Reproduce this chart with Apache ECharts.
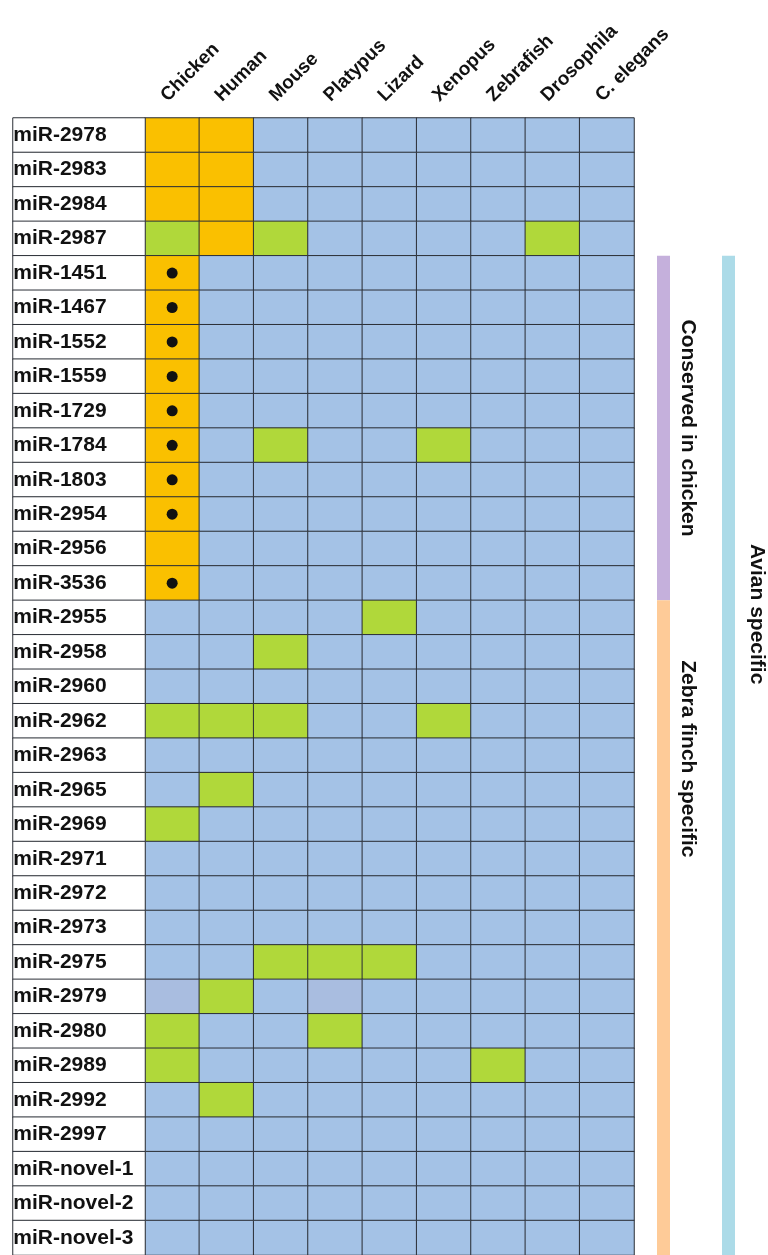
<!DOCTYPE html>
<html>
<head>
<meta charset="utf-8">
<script src="https://cdn.jsdelivr.net/npm/echarts@6/dist/echarts.min.js"></script>
<style>
  html, body { margin: 0; padding: 0; background: #fff; }
</style>
</head>
<body>
<div id="main" style="width: 768px;height:1255px;"></div>
<script type="text/javascript">
// species across the top
var species = ['Chicken', 'Human', 'Mouse', 'Platypus', 'Lizard', 'Xenopus', 'Zebrafish', 'Drosophila', 'C. elegans'];

// miRNAs down the side
var mirnas = ['miR-2978', 'miR-2983', 'miR-2984', 'miR-2987', 'miR-1451', 'miR-1467', 'miR-1552',
  'miR-1559', 'miR-1729', 'miR-1784', 'miR-1803', 'miR-2954', 'miR-2956', 'miR-3536',
  'miR-2955', 'miR-2958', 'miR-2960', 'miR-2962', 'miR-2963', 'miR-2965', 'miR-2969',
  'miR-2971', 'miR-2972', 'miR-2973', 'miR-2975', 'miR-2979', 'miR-2980', 'miR-2989',
  'miR-2992', 'miR-2997', 'miR-novel-1', 'miR-novel-2', 'miR-novel-3'];

// 0 = absent (blue), 1 = green, 2 = orange, 3 = pale blue
var cellCodes = [
  [2, 2, 0, 0, 0, 0, 0, 0, 0],
  [2, 2, 0, 0, 0, 0, 0, 0, 0],
  [2, 2, 0, 0, 0, 0, 0, 0, 0],
  [1, 2, 1, 0, 0, 0, 0, 1, 0],
  [2, 0, 0, 0, 0, 0, 0, 0, 0],
  [2, 0, 0, 0, 0, 0, 0, 0, 0],
  [2, 0, 0, 0, 0, 0, 0, 0, 0],
  [2, 0, 0, 0, 0, 0, 0, 0, 0],
  [2, 0, 0, 0, 0, 0, 0, 0, 0],
  [2, 0, 1, 0, 0, 1, 0, 0, 0],
  [2, 0, 0, 0, 0, 0, 0, 0, 0],
  [2, 0, 0, 0, 0, 0, 0, 0, 0],
  [2, 0, 0, 0, 0, 0, 0, 0, 0],
  [2, 0, 0, 0, 0, 0, 0, 0, 0],
  [0, 0, 0, 0, 1, 0, 0, 0, 0],
  [0, 0, 1, 0, 0, 0, 0, 0, 0],
  [0, 0, 0, 0, 0, 0, 0, 0, 0],
  [1, 1, 1, 0, 0, 1, 0, 0, 0],
  [0, 0, 0, 0, 0, 0, 0, 0, 0],
  [0, 1, 0, 0, 0, 0, 0, 0, 0],
  [1, 0, 0, 0, 0, 0, 0, 0, 0],
  [0, 0, 0, 0, 0, 0, 0, 0, 0],
  [0, 0, 0, 0, 0, 0, 0, 0, 0],
  [0, 0, 0, 0, 0, 0, 0, 0, 0],
  [0, 0, 1, 1, 1, 0, 0, 0, 0],
  [3, 1, 0, 3, 0, 0, 0, 0, 0],
  [1, 0, 0, 1, 0, 0, 0, 0, 0],
  [1, 0, 0, 0, 0, 0, 1, 0, 0],
  [0, 1, 0, 0, 0, 0, 0, 0, 0],
  [0, 0, 0, 0, 0, 0, 0, 0, 0],
  [0, 0, 0, 0, 0, 0, 0, 0, 0],
  [0, 0, 0, 0, 0, 0, 0, 0, 0],
  [0, 0, 0, 0, 0, 0, 0, 0, 0]
];

// miRNAs marked with a dot in the chicken column
var dotted = ['miR-1451', 'miR-1467', 'miR-1552', 'miR-1559', 'miR-1729', 'miR-1784',
  'miR-1803', 'miR-2954', 'miR-3536'];

// side brackets: name, first row, last row
var groupNames = ['Conserved in chicken', 'Zebra finch specific', 'Avian specific'];
var groupFrom = ['miR-1451', 'miR-2955', 'miR-1451'];
var groupTo = ['miR-3536', 'miR-novel-3', 'miR-novel-3'];

var FONT = "'Liberation Sans', Arial, Helvetica, sans-serif";
var groupStyle = [
  { color: '#c5b0dc', dx: 23, textDx: 54, textRow: 8.5 },
  { color: '#fecb98', dx: 23, textDx: 54, textRow: 18.1 },
  { color: '#acdbe8', dx: 88, textDx: 123, textRow: 13.9 }
];

var cellData = [];
cellCodes.forEach(function (row, r) {
  row.forEach(function (v, c) {
    cellData.push([c, r, v]);
  });
});
var labelData = mirnas.map(function (m, r) { return [0, r, 4]; });
var dotData = dotted.map(function (m) { return [0, mirnas.indexOf(m)]; });
var groupData = groupNames.map(function (g, i) {
  return [0, mirnas.indexOf(groupFrom[i]), mirnas.indexOf(groupTo[i]), i];
});

var myChart = echarts.init(document.getElementById('main'));
var option = {
  animation: false,
  grid: [
    { left: 145, top: 118, width: 489, height: 1138 },
    { left: 13, top: 118, width: 132, height: 1138 }
  ],
  xAxis: [
    {
      type: 'category', gridIndex: 0, position: 'top', data: species,
      axisLine: { show: false }, axisTick: { show: false }, splitLine: { show: false },
      axisLabel: {
        rotate: -45, margin: 0, interval: 0, verticalAlign: 'bottom', padding: [0, 0, 10, 8],
        fontFamily: FONT, fontSize: 19, fontWeight: 'bold', color: '#111'
      }
    },
    { type: 'category', gridIndex: 1, data: ['name'], show: false }
  ],
  yAxis: [
    { type: 'category', gridIndex: 0, data: mirnas, inverse: true, show: false },
    { type: 'category', gridIndex: 1, data: mirnas, inverse: true, show: false }
  ],
  visualMap: {
    type: 'piecewise', show: false, dimension: 2, seriesIndex: [0, 1],
    pieces: [
      { value: 0, color: '#a4c2e6' },
      { value: 1, color: '#b0d83a' },
      { value: 2, color: '#fac000' },
      { value: 3, color: '#a9bde0' },
      { value: 4, color: '#ffffff' }
    ]
  },
  series: [
    {
      type: 'heatmap', xAxisIndex: 0, yAxisIndex: 0, data: cellData,
      itemStyle: { borderColor: '#2b2f36', borderWidth: 1 },
      emphasis: { disabled: true }
    },
    {
      type: 'heatmap', xAxisIndex: 1, yAxisIndex: 1, data: labelData,
      itemStyle: { borderColor: '#2b2f36', borderWidth: 1 },
      label: {
        show: true, position: 'insideLeft', distance: 1,
        formatter: function (p) { return mirnas[p.data[1]]; },
        fontFamily: FONT, fontSize: 21, fontWeight: 'bold', color: '#111'
      },
      emphasis: { disabled: true }
    },
    {
      type: 'scatter', xAxisIndex: 0, yAxisIndex: 0, data: dotData,
      symbol: 'circle', symbolSize: 11, itemStyle: { color: '#111', opacity: 1 }, z: 5
    },
    {
      type: 'custom', xAxisIndex: 0, yAxisIndex: 0, data: groupData, clip: false,
      encode: { x: 0, y: [1, 2] },
      renderItem: function (params, api) {
        var gi = api.value(3);
        var st = groupStyle[gi];
        var rect = params.coordSys;
        var half = api.size([0, 1])[1] / 2;
        var y0 = api.coord([0, api.value(1)])[1] - half;
        var y1 = api.coord([0, api.value(2)])[1] + half;
        var xr = rect.x + rect.width;
        var ty = api.coord([0, 0])[1] + st.textRow * half * 2;
        return {
          type: 'group',
          children: [
            { type: 'rect', shape: { x: xr + st.dx, y: y0, width: 13, height: y1 - y0 }, style: { fill: st.color } },
            {
              type: 'text', x: xr + st.textDx, y: ty, rotation: -Math.PI / 2,
              style: {
                text: groupNames[gi], fill: '#111', align: 'center', verticalAlign: 'middle',
                font: 'bold 21px ' + FONT
              }
            }
          ]
        };
      }
    }
  ]
};
myChart.setOption(option);
</script>
</body>
</html>
